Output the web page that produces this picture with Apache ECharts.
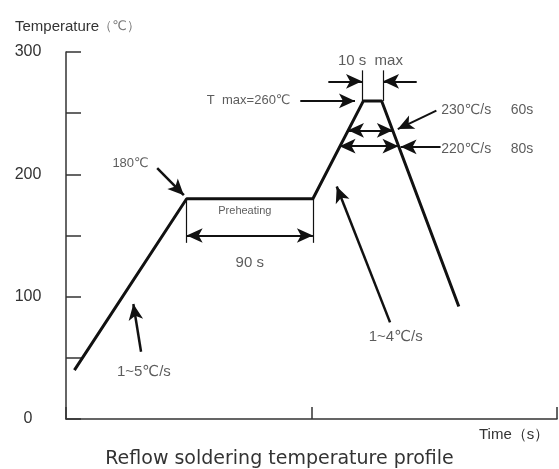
<!DOCTYPE html>
<html>
<head>
<meta charset="utf-8">
<script src="https://cdn.jsdelivr.net/npm/echarts@6/dist/echarts.min.js"></script>
<style>
  html, body { margin: 0; padding: 0; background: #fff; }
  #main { width: 559px; height: 469px; }
</style>
</head>
<body>
<div id="main"></div>
<script>
// reflow profile: time (s) / temperature (℃)
const profileTime = [6, 86, 176, 212, 225, 280];
const profileTemp = [40, 180, 180, 260, 260, 92];

const tempTicks = [0, 100, 200, 300];

// single-head arrows [x1, y1, x2(tip), y2(tip)]
const leaderArrows = [
  [65, 205, 84, 183],      // 180℃
  [53.5, 55, 48, 94],      // 1~5℃/s
  [231, 79, 193, 190],     // 1~4℃/s
  [167, 260, 206, 260],    // T max
  [187, 276, 211, 276],    // 10 s max, left
  [250, 276, 226, 276],    // 10 s max, right
  [264, 252, 236.5, 237],  // 230
  [267, 222.5, 238.5, 222.5] // 220
];
// double-head arrows
const spanArrows = [
  [86, 150, 176, 150],     // 90 s
  [201, 236, 233, 236],    // above 230
  [195, 223, 237, 223]     // above 220
];
// plain guide lines
const guideLines = [
  [86, 180, 86, 144],
  [176, 180, 176, 144],
  [211, 260, 211, 285],
  [226, 260, 226, 285]
];

const noteText = ['180℃', 'Preheating', '90 s', '1~5℃/s', '1~4℃/s', 'T  max=260℃', '10 s  max', '230℃/s     60s', '220℃/s     80s'];
const noteX = [46, 127.5, 131, 55.5, 235, 160, 217, 267.5, 267.5];
const noteY = [209, 170, 128, 38.5, 67, 260.5, 292.5, 252.5, 221];
const noteAlign = ['center', 'center', 'center', 'center', 'center', 'right', 'center', 'left', 'left'];
const noteSize = [13, 11, 15, 15, 15, 13, 15, 14, 14];

const chart = echarts.init(document.getElementById('main'));
const font = '"Liberation Sans", Arial, "DejaVu Sans", sans-serif';

function seg(s, startSym, endSym, width) {
  return [
    { coord: [s[0], s[1]], symbol: startSym, symbolSize: [11, 16] },
    { coord: [s[2], s[3]], symbol: endSym, symbolSize: [11, 16], lineStyle: { width: width } }
  ];
}

const markData = []
  .concat(leaderArrows.map((s, i) => seg(s, 'none', 'arrow', i < 3 ? 2.5 : 2)))
  .concat(spanArrows.map(s => seg(s, 'arrow', 'arrow', 2)))
  .concat(guideLines.map(s => seg(s, 'none', 'none', 1.2)));

chart.setOption({
  animation: false,
  backgroundColor: '#fff',
  title: [
    {
      text: '{a|Temperature}{b|（℃）}',
      left: 10, top: 14,
      textStyle: {
        rich: {
          a: { fontFamily: font, fontSize: 15, fontWeight: 'normal', color: '#333' },
          b: { fontFamily: font, fontSize: 13, fontWeight: 'normal', color: '#777' }
        }
      }
    },
    {
      text: 'Time（s）',
      left: 474, top: 422,
      textStyle: { fontFamily: font, fontSize: 15, fontWeight: 'normal', color: '#333' }
    },
    {
      text: 'Reflow soldering temperature profile',
      left: 'center', top: 445,
      textStyle: { fontFamily: '"DejaVu Sans", sans-serif', fontSize: 19, fontWeight: 'normal', color: '#333' }
    }
  ],
  grid: { left: 66, right: 2, top: 52, bottom: 50 },
  xAxis: {
    type: 'value', min: 0, max: 350, interval: 175,
    axisLine: { lineStyle: { color: '#333', width: 1.5 } },
    axisTick: { show: true, inside: true, length: 12, lineStyle: { color: '#333', width: 1.5 } },
    axisLabel: { show: false },
    splitLine: { show: false }
  },
  yAxis: {
    type: 'value', min: 0, max: 300, interval: 50,
    axisLine: { show: true, lineStyle: { color: '#333', width: 1.5 } },
    axisTick: { show: true, inside: true, length: 15, lineStyle: { color: '#333', width: 1.5 } },
    axisLabel: {
      margin: 38, align: 'center',
      fontFamily: font, fontSize: 16, color: '#333',
      formatter: v => tempTicks.includes(v) ? String(v) : ''
    },
    splitLine: { show: false }
  },
  series: [
    {
      type: 'line',
      data: profileTime.map((t, i) => [t, profileTemp[i]]),
      symbol: 'none',
      lineStyle: { color: '#111', width: 3 }
    },
    {
      type: 'line',
      data: [],
      markLine: {
        silent: true,
        label: { show: false },
        lineStyle: { color: '#111', type: 'solid', width: 2 },
        itemStyle: { color: '#111' },
        emphasis: { disabled: true },
        data: markData
      }
    },
    {
      type: 'scatter',
      symbolSize: 0,
      silent: true,
      data: noteText.map((t, i) => ({
        value: [noteX[i], noteY[i]],
        label: {
          show: true, position: 'inside', formatter: t,
          align: noteAlign[i], verticalAlign: 'middle',
          fontFamily: font, fontSize: noteSize[i], color: '#333'
        }
      }))
    }
  ]
});
</script>
</body>
</html>
